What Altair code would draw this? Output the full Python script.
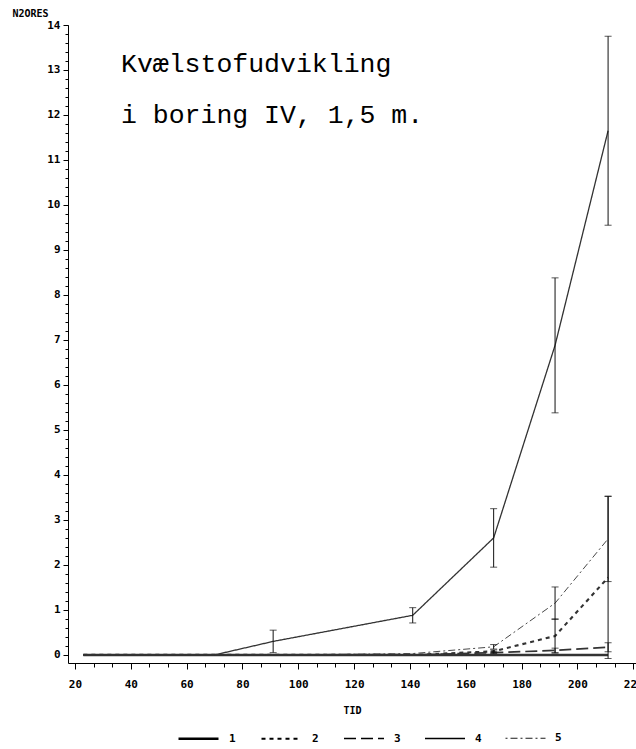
import altair as alt
import pandas as pd

# ---- data ----
tid = [23, 70, 91, 141, 170, 192, 211]
series_names = ["1", "2", "3", "4", "5"]
n2o_1 = [0, 0, 0, 0, 0, 0, 0]
n2o_2 = [0, 0, 0, 0, 0.08, 0.42, 1.72]
n2o_3 = [0, 0, 0, 0, 0.05, 0.10, 0.17]
n2o_4 = [0, 0, 0.30, 0.88, 2.60, 6.88, 11.65]
n2o_5 = [0, 0, 0, 0.03, 0.18, 1.15, 2.58]
err_1 = [0, 0, 0, 0, 0, 0, 0]
err_2 = [0, 0, 0, 0, 0.03, 0.38, 1.80]
err_3 = [0, 0, 0, 0, 0.02, 0.05, 0.10]
err_4 = [0, 0, 0.25, 0.17, 0.65, 1.50, 2.10]
err_5 = [0, 0, 0, 0, 0.05, 0.36, 0.95]
title_lines = ["Kvælstofudvikling", "i boring IV, 1,5 m."]
x_major = [20, 40, 60, 80, 100, 120, 140, 160, 180, 200, 220]
y_major = [0, 1, 2, 3, 4, 5, 6, 7, 8, 9, 10, 11, 12, 13, 14]
x_minor = [round(20 + i * 20 / 3, 3) for i in range(31)]
y_minor = [round(i / 5, 2) for i in range(71)]

values = [n2o_1, n2o_2, n2o_3, n2o_4, n2o_5]
errors = [err_1, err_2, err_3, err_4, err_5]
rows = []
for name, vals, errs in zip(series_names, values, errors):
    for t, v, e in zip(tid, vals, errs):
        rows.append({"TID": t, "N2ORES": v, "err": e, "serie": name})
df = pd.DataFrame(rows)

FONT = "DejaVu Sans Mono"
xscale = alt.Scale(domain=[17.5, 221], nice=False, zero=False)
yscale = alt.Scale(domain=[-0.18, 14], nice=False, zero=False)

legend = alt.Legend(
    title=None, orient="none", legendX=109, legendY=692, direction="horizontal",
    symbolType="stroke", symbolSize=1600, symbolStrokeColor="black",
    labelFont=FONT, labelFontSize=11, labelFontWeight="bold", labelColor="black",
    labelOffset=9, columnPadding=21, padding=0,
)

base = alt.Chart(df)

lines = base.mark_line(color="#333").encode(
    x=alt.X(
        "TID:Q", scale=xscale,
        axis=alt.Axis(
            title="TID", values=x_major, format="d", tickSize=6, orient="bottom",
            labelPadding=9, titlePadding=16, labelOverlap=False, grid=False,
        ),
    ),
    y=alt.Y(
        "N2ORES:Q", scale=yscale,
        axis=alt.Axis(
            title="N2ORES", values=y_major, format="d", tickSize=5, orient="left",
            labelPadding=3, labelOverlap=False, grid=False,
            titleAngle=0, titleAlign="left", titleBaseline="alphabetic",
            titleX=-56, titleY=-9,
        ),
    ),
    strokeDash=alt.StrokeDash(
        "serie:O",
        scale=alt.Scale(domain=series_names,
                        range=[[1, 0], [4, 4], [12, 5], [1, 0], [2, 3, 7, 3]]),
        legend=legend,
    ),
    strokeWidth=alt.StrokeWidth(
        "serie:O",
        scale=alt.Scale(domain=series_names, range=[2.5, 0.9, 0.9, 0.9, 0.9]),
        legend=legend,
    ),
)

# invisible layer that only carries the minor-tick axes
minor = base.mark_point(opacity=0).encode(
    x=alt.X("TID:Q", scale=xscale,
            axis=alt.Axis(title=None, values=x_minor, labels=False, domain=False,
                          tickSize=4, grid=False, orient="bottom")),
    y=alt.Y("N2ORES:Q", scale=yscale,
            axis=alt.Axis(title=None, values=y_minor, labels=False, domain=False,
                          tickSize=3, grid=False, orient="left")),
)

eb = base.transform_filter("datum.err > 0").transform_calculate(
    lo="datum.N2ORES - datum.err", hi="datum.N2ORES + datum.err"
)
rules = eb.mark_rule(color="#111", strokeWidth=1).encode(
    x=alt.X("TID:Q", scale=xscale, axis=None),
    y=alt.Y("lo:Q", scale=yscale, axis=None), y2="hi:Q"
)
cap_hi = eb.mark_tick(orient="horizontal", size=7, thickness=1, color="#111").encode(
    x=alt.X("TID:Q", scale=xscale, axis=None),
    y=alt.Y("hi:Q", scale=yscale, axis=None)
)
cap_lo = eb.mark_tick(orient="horizontal", size=7, thickness=1, color="#111").encode(
    x=alt.X("TID:Q", scale=xscale, axis=None),
    y=alt.Y("lo:Q", scale=yscale, axis=None)
)

title_txt = alt.Chart(pd.DataFrame({"k": [0]})).mark_text(
    text=title_lines, font="Courier New", fontSize=26.5, lineHeight=51,
    align="left", baseline="alphabetic", color="black",
).encode(x=alt.value(53), y=alt.value(47))

chart = alt.layer(lines, minor, rules, cap_hi, cap_lo, title_txt).resolve_axis(
    x="independent", y="independent"
).properties(
    width=568, height=638,
    autosize=alt.AutoSizeParams(type="none"),
    padding={"left": 68, "top": 25, "right": 0, "bottom": 86},
    background="white",
).configure_view(strokeWidth=0).configure_axis(
    labelFont=FONT, labelFontSize=11, labelFontWeight="bold", labelColor="black",
    titleFont=FONT, titleFontSize=10, titleFontWeight="bold", titleColor="black",
    domainColor="black", tickColor="black", domainWidth=1, tickWidth=1,
)

chart.save("out.html", embed_options={"renderer": "svg", "actions": False})
